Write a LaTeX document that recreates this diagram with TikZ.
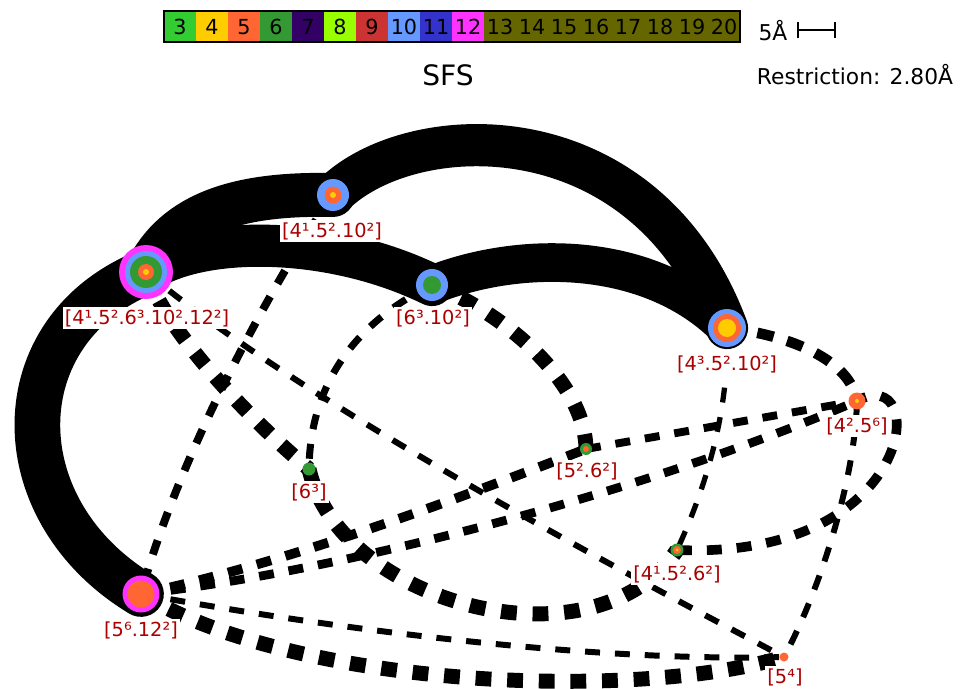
\documentclass[tikz,border=0pt]{standalone}
\usepackage{fontspec}
\setmainfont{DejaVu Sans}
\usetikzlibrary{arrows.meta}
\definecolor{r3}{HTML}{33CC33}
\definecolor{r4}{HTML}{FFCC00}
\definecolor{r5}{HTML}{FF6633}
\definecolor{r6}{HTML}{339933}
\definecolor{r7}{HTML}{330066}
\definecolor{r8}{HTML}{99FF00}
\definecolor{r9}{HTML}{CC3333}
\definecolor{r10}{HTML}{6699FF}
\definecolor{r11}{HTML}{3333CC}
\definecolor{r12}{HTML}{FF33FF}
\definecolor{r13}{HTML}{666600}
\definecolor{labred}{HTML}{AA0000}
\begin{document}
\begin{tikzpicture}[x=0.02cm,y=-0.02cm,
  site/.style={circle,inner sep=0pt,minimum size=0pt,outer sep=0pt},
  lab/.style={fill=white,inner sep=1.2pt,text=labred,font=\fontsize{11}{12}\selectfont},
  cell/.style={inner sep=0pt,minimum width=0.64cm,minimum height=0.62cm,
    text height=8.6pt,text depth=0pt,font=\fontsize{11.8}{12}\selectfont},
  bond/.style={line width=24pt,line cap=round},
  heavy/.style={line width=8.5pt,dash pattern=on 9pt off 9pt},
  medium/.style={line width=5pt,dash pattern=on 8.5pt off 8.5pt},
  light/.style={line width=3.4pt,dash pattern=on 8.5pt off 8.5pt}]
  \useasboundingbox (0,0) rectangle (960,689);
  % sites
  \foreach \n/\x/\y in {A/333/195,B/146/272,C/432/285,D/727/328,E/857/401,
                        F/586/449,G/309/469,H/677/550,I/141/594,J/784/657}
    \node[site] (\n) at (\x,\y) {};
  % solid bands
  \draw[bond,line width=25pt] (B) .. controls (175,212) and (240,193) .. (A);
  \draw[bond] (A) .. controls (410,118) and (645,108) .. (D);
  \draw[bond] (B) .. controls (200,235) and (330,235) .. (C);
  \draw[bond,line width=22pt] (C) .. controls (520,250) and (650,250) .. (D);
  \draw[bond,line width=26pt] (B) .. controls (2,330) and (2,510) .. (I);
  % dashed bonds
  \draw[heavy] (B) .. controls (165,330) and (250,420) .. (G);
  \draw[heavy] (C) .. controls (500,310) and (585,380) .. (F);
  \draw[heavy] (G) .. controls (340,605) and (595,672) .. (H);
  \draw[heavy] (I) .. controls (300,690) and (640,700) .. (J);
  \draw[medium,line width=6pt,dash pattern=on 9.5pt off 8pt] (D) .. controls (790,335) and (850,360) .. (E);
  \draw[medium,line width=5.5pt] (I) .. controls (300,560) and (480,490) .. (F);
  \draw[medium] (I) .. controls (350,570) and (650,490) .. (E);
  \draw[medium,line width=4.5pt] (F) -- (E);
  \draw[medium,line width=5.5pt] (H) .. controls (920,560) and (930,360) .. (E);
  \draw[medium,line width=4.5pt] (A) .. controls (280,270) and (180,450) .. (I);
  \draw[medium,line width=4pt] (C) .. controls (360,320) and (310,380) .. (G);
  \draw[light] (B) .. controls (300,400) and (600,560) .. (J);
  \draw[light,line width=3pt] (D) .. controls (730,420) and (700,500) .. (H);
  \draw[light] (E) .. controls (855,480) and (820,590) .. (J);
  \draw[light] (I) .. controls (350,632) and (600,662) .. (J);
  % rings
  \draw[line width=0.8pt] (D) circle (19.5);
  \foreach \n/\rings in {A/{16/r10,8.5/r5,3/r4},B/{27/r12,21/r10,16/r6,8/r5,3/r4},
                         C/{16/r10,9/r6},D/{19/r10,14/r5,9/r4},E/{8.5/r5,2/r4},
                         F/{6/r6,3/r5},G/{6.5/r6},H/{6.5/r6,4/r5,1.5/r4},
                         I/{18.5/r12,13.5/r5},J/{4.5/r5}}
    \foreach \r/\c in \rings
      \fill[\c] (\n) circle (\r);
  % labels
  \foreach \n/\x/\y/\t in {A/332/231/{[4¹.5².10²]},B/147/318/{[4¹.5².6³.10².12²]},
                           C/433/318/{[6³.10²]},D/727/364/{[4³.5².10²]},
                           E/857/426/{[4².5⁶]},F/587/471/{[5².6²]},G/309/492/{[6³]},
                           H/677/574/{[4¹.5².6²]},I/141/630/{[5⁶.12²]},J/785/677/{[5⁴]}}
    \node[lab] (lab\n) at (\x,\y) {\t};
  % key
  \foreach \v [count=\k from 0] in {3,...,12}
    \node[cell,fill=r\v] (key\v) at (180+32*\k,26.5) {\v};
  \foreach \v [count=\k from 0] in {13,...,20}
    \node[cell,fill=r13] (key\v) at (500+32*\k,26.5) {\v};
  \draw[line width=1.2pt] (key3.north west) rectangle (key20.south east);
  \node[font=\fontsize{16}{18}\selectfont] (title) at (448,75) {SFS};
  \node[font=\fontsize{12.4}{14}\selectfont] (scale) at (773,31) {5Å};
  \coordinate (s1) at (797,30);
  \coordinate (s2) at (836,30);
  \draw[line width=1.2pt,{Bar[width=9pt]}-{Bar[width=9pt]}] (s1) -- (s2);
  \node[font=\fontsize{12.4}{14}\selectfont] (restr) at (855,75) {Restriction: 2.80Å};
\end{tikzpicture}
\end{document}
